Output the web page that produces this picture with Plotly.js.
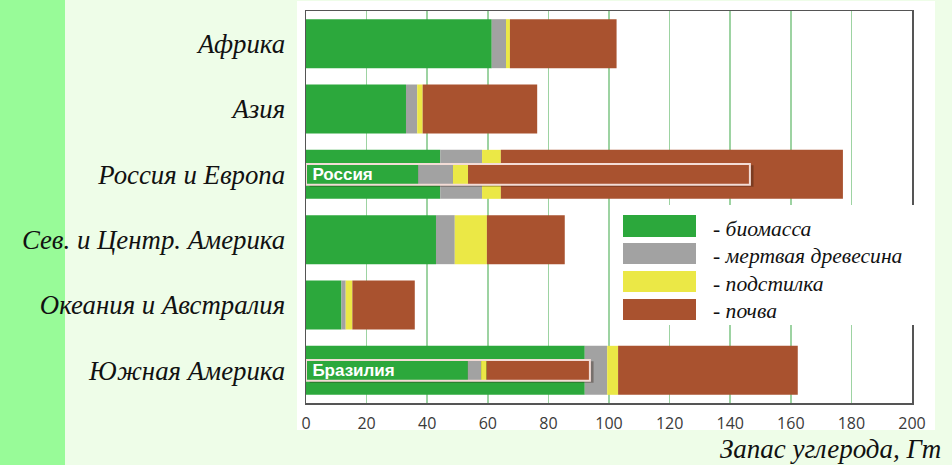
<!DOCTYPE html>
<html>
<head>
<meta charset="utf-8">
<script src="https://cdn.plot.ly/plotly-3.0.1.min.js"></script>
<style>html,body{margin:0;padding:0;background:#eefde8;}#chart{width:952px;height:465px;}</style>
</head>
<body>
<div id="chart"></div>
<script>
// ---- data ----
var regions = ['Африка', 'Азия', 'Россия и Европа', 'Сев. и Центр. Америка', 'Океания и Австралия', 'Южная Америка'];
var biomass  = [61.3, 33.0, 44.3, 42.9, 11.7, 92.0];
var deadwood = [4.7, 3.7, 13.8, 6.2, 1.4, 7.4];
var litter   = [1.3, 1.8, 6.2, 10.6, 2.2, 3.6];
var soil     = [35.2, 37.8, 112.9, 25.7, 20.6, 59.3];

var insetRegions = ['Россия и Европа', 'Южная Америка'];
var insetLabels  = ['Россия', 'Бразилия'];
var insetBiomass  = [37.0, 53.4];
var insetDeadwood = [11.5, 4.4];
var insetLitter   = [5.0, 1.8];
var insetSoil     = [93.0, 34.1];

var seriesNames = ['- биомасса', '- мертвая древесина', '- подстилка', '- почва'];
var xTicks = [0, 20, 40, 60, 80, 100, 120, 140, 160, 180, 200];
var axisTitle = 'Запас углерода, Гт';

// ---- styles ----
var colors = ['#2ca83c', '#a2a2a2', '#ebe846', '#a9522f'];
var serif = 'Liberation Serif, Times New Roman, serif';

function cum(arrs, k) {
  return arrs[0].map(function (_, i) {
    var s = 0;
    for (var j = 0; j < k; j++) s += arrs[j][i];
    return s;
  });
}

var mainSeries = [biomass, deadwood, litter, soil];
var insetSeries = [insetBiomass, insetDeadwood, insetLitter, insetSoil];
var traces = [];

mainSeries.forEach(function (vals, k) {
  traces.push({
    type: 'bar', orientation: 'h', y: regions, x: vals, base: cum(mainSeries, k),
    width: 0.75, marker: {color: colors[k], line: {width: 0}}, name: seriesNames[k],
    hoverinfo: 'x+y'
  });
});

var insetTotal = cum(insetSeries, 4);
// shadow
traces.push({
  type: 'bar', orientation: 'h', y: insetRegions, x: insetTotal, base: insetTotal.map(function(){return 1.2;}),
  width: 0.33, offset: -0.14, marker: {color: 'rgba(40,20,10,0.35)', line: {width: 0}}, hoverinfo: 'skip'
});

insetSeries.forEach(function (vals, k) {
  traces.push({
    type: 'bar', orientation: 'h', y: insetRegions, x: vals, base: cum(insetSeries, k),
    width: 0.31, marker: {color: colors[k], line: {width: 0}}, name: seriesNames[k],
    text: k === 0 ? insetLabels.map(function (s) { return '\u2009' + s; }) : undefined,
    textposition: k === 0 ? 'inside' : 'none',
    insidetextanchor: 'start', constraintext: 'none',
    textfont: {family: 'Liberation Sans, Arial, sans-serif', size: 17, color: '#ffffff', weight: 'bold'},
    hoverinfo: 'x+y'
  });
});

// outline of inset bars
traces.push({
  type: 'bar', orientation: 'h', y: insetRegions, x: insetTotal, base: [0, 0],
  width: 0.32, marker: {color: 'rgba(0,0,0,0)', line: {width: 2, color: '#f3dcd6'}}, hoverinfo: 'skip'
});

// ---- layout helpers (pixel -> paper) ----
var L = 306, R = 912, T = 11, B = 403;
function px(x) { return (x - L) / (R - L); }
function py(y) { return (B - y) / (B - T); }

var shapes = [
  {type: 'rect', xref: 'paper', yref: 'paper', x0: px(0), x1: px(65), y0: py(0), y1: py(465),
   fillcolor: '#98fb98', line: {width: 0}, layer: 'below'},
  {type: 'rect', xref: 'paper', yref: 'paper', x0: px(297), x1: px(935), y0: py(1), y1: py(430),
   fillcolor: '#ffffff', line: {width: 0}, layer: 'below'},
  {type: 'rect', xref: 'paper', yref: 'paper', x0: px(612), x1: px(916), y0: py(205), y1: py(325),
   fillcolor: '#ffffff', line: {width: 0}, layer: 'above'}
];
var swY = [[215, 237], [243, 264], [271, 292], [299, 320]];
var txtY = [229, 256, 284, 311];
var annotations = [];
seriesNames.forEach(function (n, k) {
  shapes.push({type: 'rect', xref: 'paper', yref: 'paper', x0: px(623), x1: px(696),
    y0: py(swY[k][1]), y1: py(swY[k][0]), fillcolor: colors[k], line: {width: 0}, layer: 'above'});
  annotations.push({xref: 'paper', yref: 'paper', x: px(711), y: py(txtY[k]), xanchor: 'left', yanchor: 'middle',
    text: n, showarrow: false, font: {family: serif, size: 21.6, color: '#111111', style: 'italic'}});
});
annotations.push({xref: 'paper', yref: 'paper', x: px(943), y: py(449), xanchor: 'right', yanchor: 'middle',
  text: axisTitle, showarrow: false, font: {family: serif, size: 27, color: '#111111', style: 'italic'}});

var layout = {
  width: 952, height: 465,
  margin: {l: L, r: 952 - R, t: T, b: 465 - B, pad: 0},
  paper_bgcolor: '#eefde8', plot_bgcolor: '#ffffff',
  barmode: 'overlay', showlegend: false,
  xaxis: {range: [0, 200], tickvals: xTicks, ticktext: xTicks.map(String), showgrid: true,
    gridcolor: '#9dd3a2', gridwidth: 1.5, zeroline: false, showline: true, linecolor: '#555555',
    linewidth: 1.5, mirror: true, ticks: '', ticklabelstandoff: 5,
    tickfont: {family: 'Open Sans, Liberation Sans, sans-serif', size: 16, color: '#3a3a3a'}, fixedrange: true},
  yaxis: {type: 'category', categoryorder: 'array', categoryarray: regions, autorange: 'reversed',
    showgrid: false, zeroline: false, showline: true, linecolor: '#555555', linewidth: 1.5, mirror: true,
    ticks: '', ticklabelstandoff: 14,
    tickfont: {family: serif, size: 26.8, color: '#111111', style: 'italic'}, fixedrange: true},
  shapes: shapes,
  annotations: annotations
};

Plotly.newPlot('chart', traces, layout, {displayModeBar: false, staticPlot: true});
</script>
</body>
</html>
